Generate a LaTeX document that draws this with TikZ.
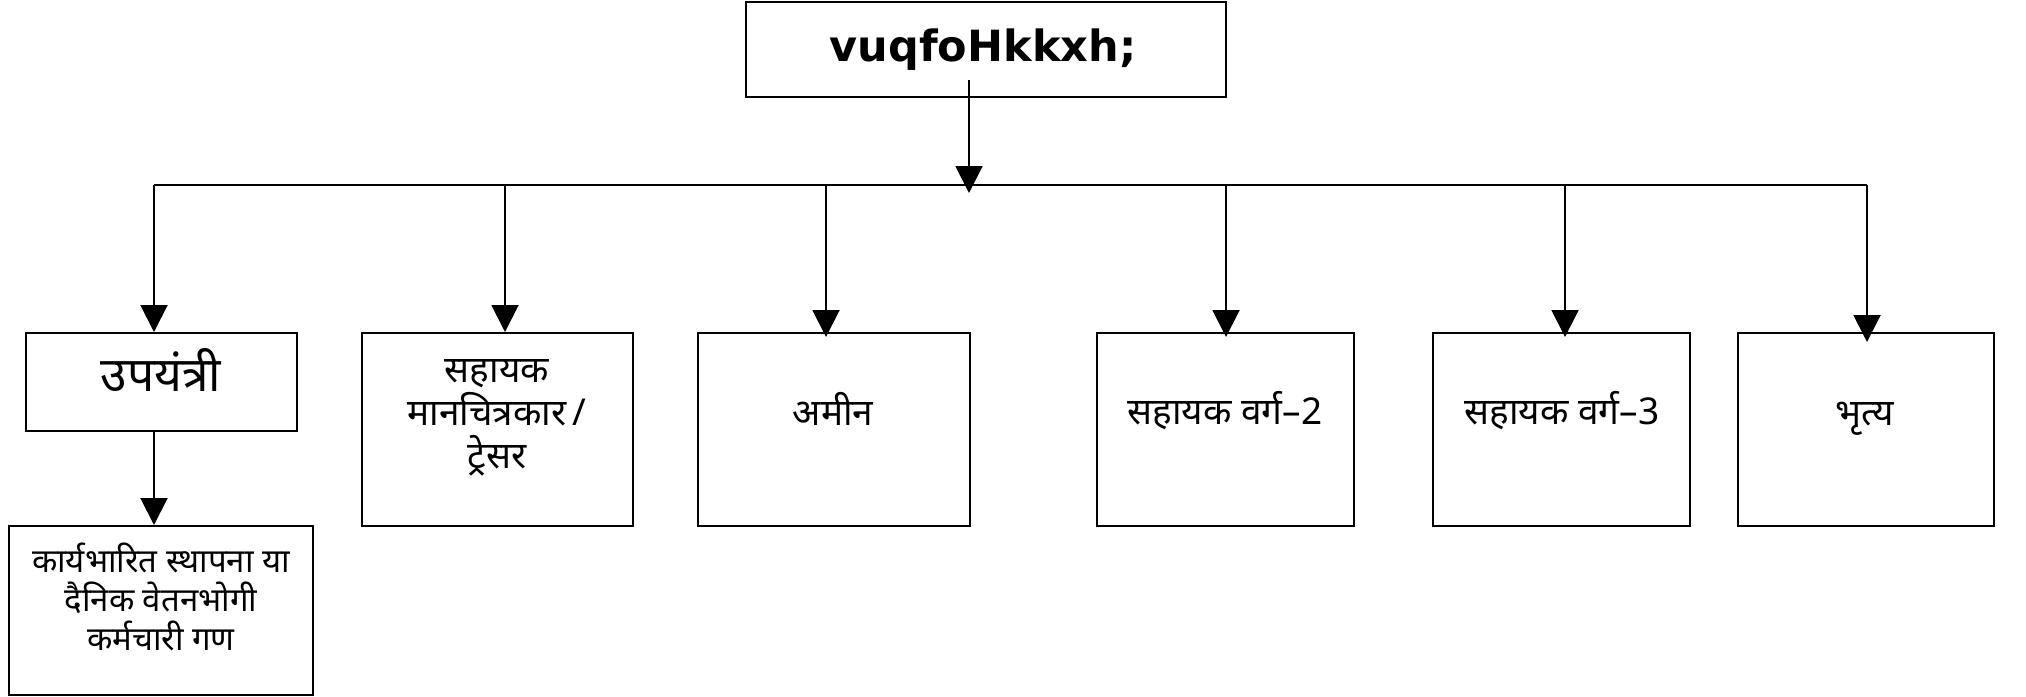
\documentclass[tikz,border=0pt]{standalone}
\usepackage{fontspec}
\setmainfont{Noto Sans}
\newfontfamily\dev[Script=Devanagari]{Noto Sans}
\newfontfamily\topf{DejaVu Sans}
\usetikzlibrary{arrows.meta,calc}
\tikzset{
  box/.style={draw, line width=2pt, inner sep=0pt, rectangle},
  txt/.style={inner sep=0pt, align=center, font=\dev\fontsize{37}{43}\selectfont},
  arr/.style={line width=2pt, -{Triangle[width=27pt,length=27pt]}},
  bus/.style={line width=1.6pt}
}
\begin{document}
\begin{tikzpicture}[x=1pt,y=-1pt]
\useasboundingbox (0,0) rectangle (2026,696);
% boxes
\node[box, minimum width=480pt, minimum height=95pt] (top) at (986,49.5) {};
\node[box, minimum width=271pt, minimum height=98pt] (b1) at (161.5,382) {};
\node[box, minimum width=304pt, minimum height=169pt] (c1) at (161,610.5) {};
\node[box, minimum width=271pt, minimum height=193pt] (b2) at (497.5,429.5) {};
\node[box, minimum width=272pt, minimum height=193pt] (b3) at (834,429.5) {};
\node[box, minimum width=257pt, minimum height=193pt] (b4) at (1225.5,429.5) {};
\node[box, minimum width=257pt, minimum height=193pt] (b5) at (1561.5,429.5) {};
\node[box, minimum width=256pt, minimum height=193pt] (b6) at (1866,429.5) {};
% texts
\node[inner sep=0pt, font=\topf\bfseries\fontsize{43}{48}\selectfont] (ttop) at (983,50) {vuqfoHkkxh;};
\node[txt, font=\dev\fontsize{48}{52}\selectfont] (t1) at (161,370) {उपयंत्री};
\node[txt, font=\dev\fontsize{33}{39}\selectfont] (tc1) at (161,597) {कार्यभारित स्थापना या\\दैनिक वेतनभोगी\\कर्मचारी गण};
\node[txt] (t2) at (497,418) {सहायक\\मानचित्रकार\,/\\ट्रेसर};
\node[txt] (t3) at (833,409) {अमीन};
\node[txt] (t4) at (1225,411) {सहायक वर्ग–2};
\node[txt] (t5) at (1562,411) {सहायक वर्ग–3};
\node[txt] (t6) at (1865,419) {भृत्य};
% connectors
\coordinate (ts) at (969,80);
\coordinate (tip0) at (969,193);
\coordinate (busL) at (154,185);
\coordinate (busR) at (1867,185);
\coordinate (d2) at (505,185);
\coordinate (d3) at (826,185);
\coordinate (d4) at (1226,185);
\coordinate (d5) at (1565,185);
\draw[bus] (busL) -- (busR);
\draw[arr] (ts) -- (tip0);
\draw[arr] (busL) -- (busL |- b1.north);
\draw[arr] (d2) -- (d2 |- b2.north);
\draw[arr] (d3) -- ($(d3 |- b3.north)+(0,5)$);
\draw[arr] (d4) -- ($(d4 |- b4.north)+(0,5)$);
\draw[arr] (d5) -- ($(d5 |- b5.north)+(0,5)$);
\draw[arr] (busR) -- ($(busR |- b6.north)+(0,10)$);
\draw[arr] (b1.south -| busL) -- (c1.north -| busL);
\end{tikzpicture}
\end{document}
